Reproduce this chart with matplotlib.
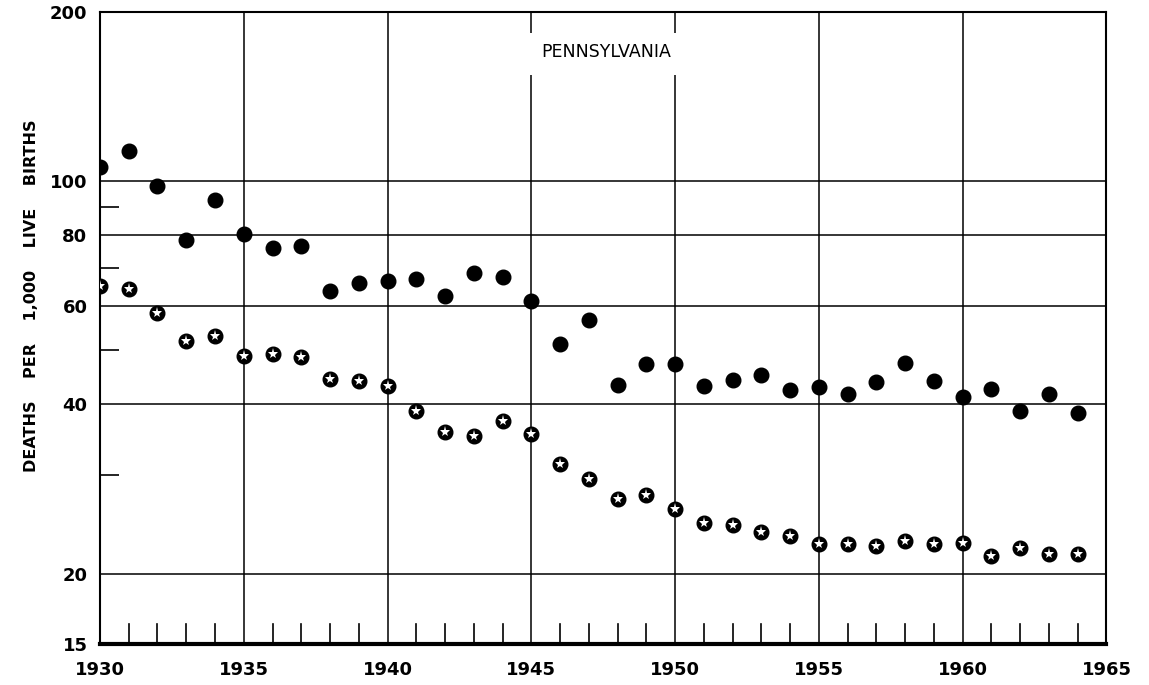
import numpy as np
import matplotlib.pyplot as plt
from matplotlib.ticker import FixedLocator, NullFormatter

years = list(range(1930, 1965))
total_rate = [106, 113, 98, 78.4, 92.4, 80.5, 75.8, 76.5, 63.8, 65.8,
              66.4, 67, 62.5, 68.5, 67.5, 61, 51.3, 56.6, 43.4, 47.2,
              47.2, 43.2, 44.2, 45.1, 42.5, 42.9, 41.8, 43.8, 47.4, 44,
              41.2, 42.7, 39, 41.7, 38.6]
white_rate = [65.1, 64.3, 58.3, 51.9, 52.9, 48.8, 49.2, 48.6, 44.4, 44,
              43.2, 38.9, 35.7, 35.1, 37.4, 35.4, 31.4, 29.5, 27.2, 27.6,
              26.1, 24.6, 24.4, 23.7, 23.3, 22.6, 22.6, 22.4, 22.9, 22.6,
              22.7, 21.5, 22.2, 21.7, 21.7]

y_major = [15, 20, 40, 60, 80, 100, 200]
y_minor = [30, 50, 70, 90]
y_grid = [20, 40, 60, 80, 100]
x_major = [1930, 1935, 1940, 1945, 1950, 1955, 1960, 1965]
TITLE = "PENNSYLVANIA"
YLABEL = "DEATHS    PER    1,000    LIVE    BIRTHS"

fig = plt.figure(figsize=(11.49, 6.85), dpi=100)
ax = fig.add_axes([0.087, 0.060, 0.876, 0.923])
ax.set_yscale('log')
ax.set_ylim(15, 200)
ax.set_xlim(1930, 1965)

# grid lines
for v in y_grid:
    ax.axhline(v, color='black', lw=1.1, zorder=1)
for yr in x_major[1:-1]:
    ax.axvline(yr, color='black', lw=1.1, zorder=1)

# small year ticks along the bottom
for yr in years[1:]:
    if yr % 5 != 0:
        ax.plot([yr, yr], [15, 16.3], color='black', lw=1.2, zorder=1)

ax.plot(years, total_rate, 'o', color='black', ms=10.5, zorder=3)
ax.plot(years, white_rate, 'o', color='black', ms=10.5, zorder=3)
ax.plot(years, white_rate, '*', color='white', ms=8, mew=0, zorder=4)

# title sits in a gap cut out of the grid lines
ax.fill_between([1944.8, 1950.2], 154.5, 183.5, color='white', lw=0, zorder=2)
ax.text(1947.6, 169.5, TITLE, ha='center', va='center', fontsize=12.5, zorder=3)

ax.yaxis.set_major_locator(FixedLocator(y_major))
ax.yaxis.set_minor_locator(FixedLocator(y_minor))
ax.yaxis.set_minor_formatter(NullFormatter())
ax.set_yticklabels([str(v) for v in y_major], fontsize=13, fontweight='bold')
ax.tick_params(axis='y', which='major', length=0, pad=9)
ax.tick_params(axis='y', which='minor', direction='in', length=14, width=1.2)
ax.set_xticks(x_major)
ax.set_xticklabels([str(v) for v in x_major], fontsize=13, fontweight='bold')
ax.tick_params(axis='x', length=0, pad=12)

ax.set_ylabel(YLABEL, fontsize=11.5, fontweight='bold')
ax.yaxis.set_label_coords(-0.061, 0.55)

for side in ['left', 'top', 'right']:
    ax.spines[side].set_linewidth(1.5)
ax.spines['bottom'].set_linewidth(3)

fig.savefig('out.png', dpi=100)
